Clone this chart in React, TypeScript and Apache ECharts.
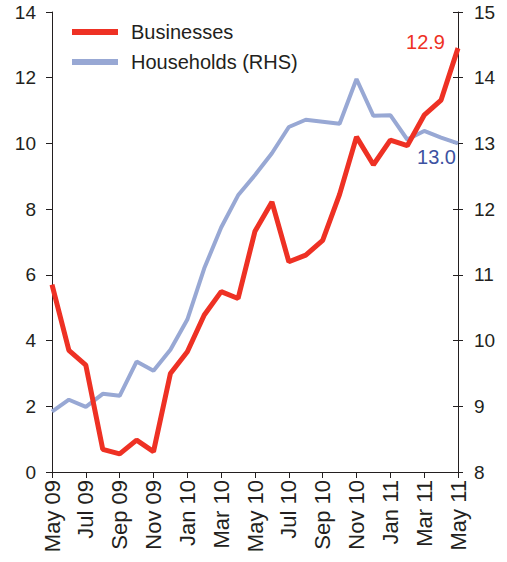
import React, { useEffect, useRef } from "react";
import * as echarts from "echarts";

const months = [
  "May 09", "Jun 09", "Jul 09", "Aug 09", "Sep 09", "Oct 09", "Nov 09", "Dec 09",
  "Jan 10", "Feb 10", "Mar 10", "Apr 10", "May 10", "Jun 10", "Jul 10", "Aug 10",
  "Sep 10", "Oct 10", "Nov 10", "Dec 10", "Jan 11", "Feb 11", "Mar 11", "Apr 11", "May 11",
];

const businesses = [
  5.7, 3.7, 3.25, 0.69, 0.55, 0.97, 0.62, 3.0, 3.66, 4.78, 5.49, 5.28, 7.33,
  8.22, 6.4, 6.6, 7.05, 8.45, 10.2, 9.35, 10.1, 9.93, 10.86, 11.32, 12.9,
];

const households = [
  8.92, 9.1, 8.99, 9.19, 9.16, 9.68, 9.54, 9.86, 10.32, 11.1, 11.72, 12.21, 12.52,
  12.85, 13.25, 13.36, 13.33, 13.3, 13.98, 13.42, 13.43, 13.06, 13.19, 13.09, 13.0,
];

const leftTicks = { min: 0, max: 14, interval: 2 };
const rightTicks = { min: 8, max: 15, interval: 1 };

const FONT = "Liberation Sans, Arial, Helvetica, sans-serif";
const RED = "#EE3124";
const BLUE = "#98A8D4";
const DARKBLUE = "#3D52A1";
const TEXT = "#231F20";

export default function App() {
  const ref = useRef<HTMLDivElement>(null);
  useEffect(() => {
    if (!ref.current) return;
    const chart = echarts.init(ref.current, undefined, { renderer: "svg" });
    const last = months.length - 1;
    chart.setOption({
      animation: false,
      textStyle: { fontFamily: FONT },
      grid: { left: 52, right: 49, top: 12, bottom: 90, containLabel: false },
      legend: {
        orient: "vertical",
        left: 72,
        top: 22,
        padding: 0,
        icon: "rect",
        itemWidth: 46,
        itemHeight: 6,
        itemGap: 10,
        textStyle: { fontSize: 20, color: TEXT, fontFamily: FONT, padding: [0, 0, 0, 8] },
        data: ["Businesses", "Households (RHS)"],
      },
      xAxis: {
        type: "category",
        data: months,
        boundaryGap: false,
        axisLine: { lineStyle: { color: TEXT, width: 1 } },
        axisTick: { show: true, interval: 1, length: 6, lineStyle: { color: TEXT } },
        axisLabel: {
          interval: 1,
          rotate: 90,
          fontSize: 22,
          color: TEXT,
          fontFamily: FONT,
          margin: 8,
        },
        splitLine: { show: false },
      },
      yAxis: [
        {
          type: "value",
          position: "left",
          ...leftTicks,
          axisLine: { show: true, lineStyle: { color: TEXT } },
          axisTick: { show: true, length: 6, lineStyle: { color: TEXT } },
          axisLabel: { fontSize: 19, color: TEXT, fontFamily: FONT, margin: 16 },
          splitLine: { show: false },
        },
        {
          type: "value",
          position: "right",
          ...rightTicks,
          axisLine: { show: true, lineStyle: { color: TEXT } },
          axisTick: { show: true, length: 5, lineStyle: { color: TEXT } },
          axisLabel: { fontSize: 19, color: TEXT, fontFamily: FONT, margin: 16 },
          splitLine: { show: false },
        },
        {
          type: "value",
          position: "right",
          ...rightTicks,
          axisLine: { show: false },
          axisTick: { show: true, inside: true, length: 5, lineStyle: { color: TEXT } },
          axisLabel: { show: false },
          splitLine: { show: false },
        },
      ],
      series: [
        {
          name: "Households (RHS)",
          type: "line",
          yAxisIndex: 1,
          z: 2,
          symbol: "circle",
          symbolSize: 0,
          showSymbol: true,
          lineStyle: { color: BLUE, width: 4 },
          itemStyle: { color: BLUE },
          data: households.map((v, i) =>
            i === last
              ? {
                  value: v,
                  label: {
                    show: true,
                    position: "left",
                    distance: 2,
                    offset: [0, 14],
                    formatter: (p: any) => Number(p.value).toFixed(1),
                    color: DARKBLUE,
                    fontSize: 20,
                    fontFamily: FONT,
                  },
                }
              : v
          ),
        },
        {
          name: "Businesses",
          type: "line",
          yAxisIndex: 0,
          z: 3,
          symbol: "circle",
          symbolSize: 0,
          showSymbol: true,
          lineStyle: { color: RED, width: 5 },
          itemStyle: { color: RED },
          data: businesses.map((v, i) =>
            i === last
              ? {
                  value: v,
                  label: {
                    show: true,
                    position: "left",
                    distance: 13,
                    offset: [0, -6],
                    formatter: (p: any) => Number(p.value).toFixed(1),
                    color: RED,
                    fontSize: 20,
                    fontFamily: FONT,
                  },
                }
              : v
          ),
        },
      ],
    });
    return () => chart.dispose();
  }, []);
  return <div ref={ref} style={{ width: 507, height: 562, position: "absolute", left: 0, top: 0, background: "#fff" }} />;
}
